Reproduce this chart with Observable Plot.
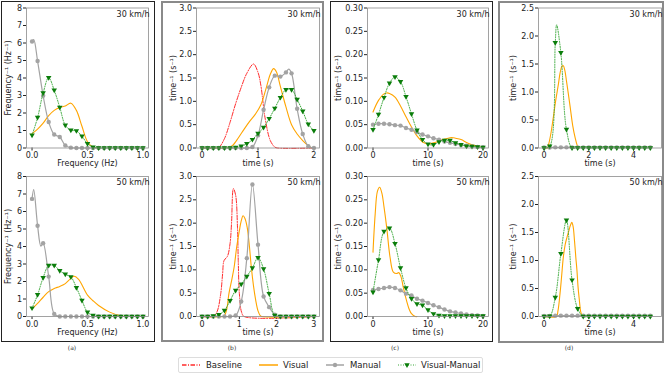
<!DOCTYPE html>
<html><head><meta charset="utf-8">
<script src="https://cdn.jsdelivr.net/npm/d3@7"></script>
<script src="https://cdn.jsdelivr.net/npm/@observablehq/plot@0.6"></script>
<style>
body{margin:0;background:#fff;font-family:"DejaVu Sans",sans-serif;}
#root{position:relative;width:665px;height:377px;overflow:hidden;background:#fff;}
.box{position:absolute;box-sizing:border-box;}
.plot{position:absolute;}
.plot svg{overflow:visible;}
.cap{position:absolute;font-size:6px;color:#333;transform:translateX(-50%);line-height:6px;}
</style></head><body><div id="root"></div>
<script>
// ---------- data ----------
const aX = [0,0.05,0.1,0.15,0.2,0.25,0.3,0.35,0.4,0.45,0.5,0.55,0.6,0.65,0.7,0.75,0.8,0.85,0.9,0.95,1];
const a30Manual = [6.09,4.97,2.99,1.49,0.77,0.63,0.15,0.02,0,0,0,0,0,0,0,0,0,0,0,0,0];
const a30ManualExtra = [[0.015,6.2]];
const a30VM = [0.73,1.74,3.14,4.02,3.3,2.32,1.3,1.01,0.98,0.67,0.25,0.05,0,0,0,0,0,0,0,0,0];
const a30Visual = [[0,0.82],[0.05,1.08],[0.1,1.42],[0.15,1.85],[0.2,2.15],[0.25,2.32],[0.3,2.4],[0.35,2.56],[0.4,2.15],[0.45,1.24],[0.5,0.36],[0.55,0.06],[0.6,0]];
const a50Manual = [6.72,5.19,4.19,2.28,0.15,0,0,0,0,0,0,0,0,0,0,0,0,0,0,0,0];
const a50ManualExtra = [[0.015,7.25],[0.08,4.02]];
const a50VM = [0.48,1.24,2.22,2.91,2.91,2.62,2.41,2.26,1.65,0.92,0.25,0.06,0,0,0,0,0,0,0,0,0];
const a50Visual = [[0,0.44],[0.05,0.75],[0.1,1.1],[0.15,1.42],[0.2,1.6],[0.25,1.72],[0.3,1.88],[0.35,2.18],[0.38,2.3],[0.42,2.12],[0.5,1.22],[0.55,0.9],[0.6,0.63],[0.7,0.25],[0.8,0.04],[0.85,0]];

const bX30 = [0,0.1,0.2,0.3,0.4,0.5,0.6,0.7,0.8,0.9,1.0,1.1,1.2,1.3,1.4,1.5,1.6,1.7,1.8,1.9,2.0];
const b30Manual = [0,0,0,0,0,0,0,0,0,0.02,0.27,0.82,1.3,1.55,1.53,1.62,1.6,0.84,0.3,0.04,0];
const b30ManualExtra = [[1.55,1.69]];
const b30VM = [0,0,0,0,0,0,0.01,0.04,0.09,0.18,0.31,0.44,0.63,0.85,1.08,1.25,1.25,1.04,0.79,0.51,0.37];
const b30Visual = [[0,0],[0.4,0],[0.5,0.02],[0.55,0.06],[0.65,0.22],[0.75,0.4],[0.85,0.57],[0.95,0.72],[1.05,0.92],[1.15,1.3],[1.22,1.58],[1.28,1.7],[1.33,1.63],[1.4,1.32],[1.5,0.88],[1.6,0.5],[1.7,0.3],[1.8,0.16],[1.9,0.05],[1.95,0.01],[2,0]];
const b30Base = [[0,0],[0.25,0],[0.3,0.01],[0.4,0.2],[0.5,0.55],[0.6,0.95],[0.7,1.3],[0.8,1.6],[0.92,1.8],[1.0,1.62],[1.05,1.35],[1.13,0.62],[1.22,0.16],[1.3,0.02],[1.35,0],[2,0]];

const bX50 = [0,0.15,0.3,0.45,0.6,0.75,0.9,1.05,1.2,1.35,1.5,1.65,1.8,1.95,2.1,2.25,2.4,2.55,2.7,2.85,3.0];
const b50Manual = [0,0,0,0,0,0,0.02,0.32,1.25,2.83,1.54,0.43,0.2,0.04,0,0,0,0,0,0,0];
const b50VM = [0,0,0.01,0.04,0.13,0.34,0.56,0.69,0.86,1.04,1.26,1.02,0.49,0.02,0,0,0,0,0,0,0];
const b50Visual = [[0,0],[0.55,0],[0.6,0.02],[0.66,0.15],[0.72,0.49],[0.8,0.8],[0.86,1.06],[0.93,1.5],[1.0,1.84],[1.05,2.05],[1.1,2.16],[1.15,2.1],[1.21,1.91],[1.27,1.5],[1.32,1.06],[1.38,0.65],[1.44,0.34],[1.5,0.12],[1.56,0.02],[1.6,0],[3,0]];
const b50Base = [[0,0],[0.3,0],[0.4,0.1],[0.5,0.49],[0.55,0.91],[0.59,1.2],[0.68,1.29],[0.75,1.56],[0.79,2.0],[0.84,2.74],[0.9,2.6],[0.95,1.9],[0.97,1.2],[1.0,0.49],[1.06,0.09],[1.13,0],[3,0]];

const cX = [0,1,2,3,4,5,6,7,8,9,10,11,12,13,14,15,16,17,18,19,20];
const c30Manual = [0.05,0.052,0.052,0.051,0.049,0.048,0.043,0.039,0.034,0.029,0.025,0.021,0.018,0.014,0.011,0.0085,0.0065,0.005,0.0035,0.002,0.0015];
const c30VM = [0.039,0.072,0.108,0.139,0.152,0.142,0.11,0.073,0.038,0.018,0.008,0.007,0.013,0.016,0.016,0.011,0.007,0.004,0.0035,0.002,0.001];
const c30Visual = [[0,0.077],[1,0.102],[2,0.116],[2.5,0.118],[3,0.117],[4,0.109],[5,0.09],[6,0.067],[7,0.045],[8,0.026],[9,0.013],[10,0.009],[11,0.011],[12,0.015],[13,0.019],[14,0.022],[14.6,0.022],[15,0.021],[16,0.018],[17,0.012],[18,0.007],[19,0.003],[20,0.001]];
const c50Manual = [0.057,0.059,0.061,0.063,0.061,0.056,0.049,0.045,0.038,0.034,0.029,0.024,0.02,0.015,0.011,0.0086,0.0064,0.0043,0.003,0.002,0.0014];
const c50VM = [0.052,0.121,0.182,0.189,0.156,0.104,0.061,0.038,0.027,0.024,0.014,0.0057,0.002,0.001,0.001,0.001,0.001,0.001,0.001,0.001,0.001];
const c50Visual = [[0,0.138],[0.4,0.22],[0.8,0.268],[1.2,0.277],[1.6,0.265],[2,0.235],[2.5,0.19],[3.1,0.127],[3.7,0.095],[4.3,0.092],[4.7,0.094],[5.1,0.085],[5.5,0.063],[6.1,0.034],[6.6,0.015],[7,0.006],[7.7,0],[8,0]];

const dX = [0,0.25,0.5,0.75,1,1.25,1.5,1.75,2,2.25,2.5,2.75,3,3.25,3.5,3.75,4,4.25,4.5,4.75];
const d30Manual = [0.01,0.01,0.012,0.012,0.012,0.012,0.012,0.012,0.012,0.012,0.012,0.012,0.012,0.012,0.012,0.012,0.012,0.012,0.012,0.012];
const d30VM = [0,0.03,1.88,1.7,0.33,0,0,0,0,0,0,0,0,0,0,0,0,0,0,0];
const d30VMExtra = [[0.56,2.2]];
const d30Visual = [[0,0],[0.15,0],[0.2,0.06],[0.3,0.25],[0.41,0.54],[0.52,0.85],[0.64,1.14],[0.72,1.35],[0.8,1.46],[0.86,1.47],[0.93,1.38],[1.0,1.2],[1.08,0.98],[1.17,0.72],[1.28,0.4],[1.39,0.18],[1.48,0.05],[1.55,0]];
const d50Manual = [0.012,0.012,0.015,0.015,0.015,0.015,0.015,0.015,0.015,0.015,0.015,0.015,0.015,0.015,0.015,0.015,0.015,0.015,0.015,0.015];
const d50VM = [0,0.005,0.34,1.12,1.72,0.65,0.14,0,0,0,0,0,0,0,0,0,0,0,0,0];
const d50Visual = [[0,0],[0.55,0],[0.62,0.1],[0.71,0.4],[0.78,0.7],[0.86,1.06],[0.94,1.28],[1.02,1.41],[1.1,1.52],[1.17,1.62],[1.24,1.68],[1.3,1.6],[1.36,1.35],[1.42,1.05],[1.47,0.82],[1.52,0.52],[1.58,0.28],[1.63,0.1],[1.67,0.04],[1.7,0]];

const titles = ["30 km/h","50 km/h"];
const captions = ["(a)","(b)","(c)","(d)"];
const legendLabels = ["Baseline","Visual","Manual","Visual-Manual"];

// ---------- style ----------
const C = {base:"#ff2b2b", visual:"#ffa500", manual:"#a3a3a3", vmLine:"#39a839", vmDot:"#0a7d0a"};
const cols = [
  {left:0,   w:155, mL:26, mR:7, xd:[-0.05,1.05], xt:[0,0.5,1], xf:d3.format(".1f"), yd:[0,8], yt:[0,1,2,3,4,5,6,7,8], yf:d3.format("d"), xl:"Frequency (Hz)", yl:"Frequency\u207B\u00B9 (Hz\u207B\u00B9)", ylx:18},
  {left:160, w:164, mL:36, mR:5, yd:[0,3], yt:[0,0.5,1,1.5,2,2.5,3], yf:d3.format(".1f"), xl:"time (s)", yl:"time\u207B\u00B9 (s\u207B\u00B9)", ylx:23.5},
  {left:330, w:162, mL:37, mR:4, xd:[-1,21], xt:[0,10,20], xf:d3.format("d"), yd:[0,0.3], yt:[0,0.05,0.1,0.15,0.2,0.25,0.3], yf:d3.format(".2f"), xl:"time (s)", yl:"time\u207B\u00B9 (s\u207B\u00B9)", ylx:29},
  {left:497, w:167, mL:41, mR:3, xd:[-0.25,5.25], xt:[0,2,4], xf:d3.format("d"), yd:[0,2.5], yt:[0,0.5,1,1.5,2,2.5], yf:d3.format(".1f"), xl:"time (s)", yl:"time\u207B\u00B9 (s\u207B\u00B9)", ylx:25}
];
const rows = [{top:0,h:170,mT:7.5,mB:22.5},{top:168,h:172,mT:8,mB:24}];

const panels = [
  {c:0,r:0, visual:a30Visual, mx:aX, manual:a30Manual, mExtra:a30ManualExtra, vx:aX, vm:a30VM},
  {c:0,r:1, visual:a50Visual, mx:aX, manual:a50Manual, mExtra:a50ManualExtra, vx:aX, vm:a50VM},
  {c:1,r:0, xd:[-0.1,2.1], xt:[0,1,2], base:b30Base, visual:b30Visual, mx:bX30, manual:b30Manual, mExtra:b30ManualExtra, vx:bX30, vm:b30VM},
  {c:1,r:1, xd:[-0.15,3.15], xt:[0,1,2,3], base:b50Base, visual:b50Visual, mx:bX50, manual:b50Manual, vx:bX50, vm:b50VM},
  {c:2,r:0, visual:c30Visual, mx:cX, manual:c30Manual, vx:cX, vm:c30VM},
  {c:2,r:1, visual:c50Visual, mx:cX, manual:c50Manual, vx:cX, vm:c50VM},
  {c:3,r:0, visual:d30Visual, mx:dX, manual:d30Manual, vx:dX, vm:d30VM, vExtra:d30VMExtra},
  {c:3,r:1, visual:d50Visual, mx:dX, manual:d50Manual, vx:dX, vm:d50VM}
];

const triDown = {draw(ctx, size){ const s = Math.sqrt(size)*0.62; ctx.moveTo(-s,-s*0.62); ctx.lineTo(s,-s*0.62); ctx.lineTo(0,s*1.1); ctx.closePath(); }};

function pts(xs, ys){ return xs.map((x,i)=>({x, y:ys[i]})); }
function withExtra(p, extra){ const all = p.concat((extra||[]).map(([x,y])=>({x,y}))); return all.sort((a,b)=>a.x-b.x); }
const P = arr => arr.map(([x,y])=>({x,y}));

const root = document.getElementById("root");

// outer boxes
[[1,1,154,341,"#222",1.3],[161,1,163,341,"#8a8a8a",2],[330,1,163,341,"#222",1.3],[498,1,166,342,"#8a8a8a",2]].forEach(([l,t,w,h,c,bw])=>{
  const d = document.createElement("div"); d.className="box";
  Object.assign(d.style,{left:l+"px",top:t+"px",width:w+"px",height:h+"px",border:bw+"px solid "+c});
  root.appendChild(d);
});

panels.forEach(p=>{
  const col = cols[p.c], row = rows[p.r];
  const xd = p.xd || col.xd, xt = p.xt || col.xt, xf = col.xf || d3.format("d");
  const mpts = pts(p.mx, p.manual), vpts = pts(p.vx, p.vm);
  const marks = [];
  if (p.base) marks.push(Plot.line(P(p.base), {x:"x", y:"y", stroke:C.base, strokeWidth:1, strokeDasharray:"4.5,1.5,1,1.5", curve:"catmull-rom"}));
  marks.push(Plot.line(P(p.visual), {x:"x", y:"y", stroke:C.visual, strokeWidth:1.1, curve:"catmull-rom"}));
  marks.push(Plot.line(withExtra(mpts, p.mExtra), {x:"x", y:"y", stroke:C.manual, strokeWidth:1.2, curve:"catmull-rom"}));
  marks.push(Plot.dot(mpts, {x:"x", y:"y", r:2.2, fill:C.manual, stroke:"none"}));
  marks.push(Plot.line(withExtra(vpts, p.vExtra), {x:"x", y:"y", stroke:C.vmLine, strokeWidth:1, strokeDasharray:"1,1.5", curve:"catmull-rom"}));
  marks.push(Plot.dot(vpts, {x:"x", y:"y", r:2.5, symbol:triDown, fill:C.vmDot, stroke:"none"}));
  marks.push(Plot.frame({stroke:"#8c8c8c", strokeWidth:0.8}));
  marks.push(Plot.text([titles[p.r]], {frameAnchor:"top-right", text:d=>d, textAnchor:"end", dy:3, dx:1, fontSize:8, fill:"#222"}));
  marks.push(Plot.text([col.xl], {frameAnchor:"bottom", text:d=>d, textAnchor:"middle", dy:18, fontSize:8, fill:"#222"}));
  marks.push(Plot.text([col.yl], {frameAnchor:"left", text:d=>d, textAnchor:"middle", rotate:-90, dx:-col.ylx, fontSize:8, fill:"#222"}));
  const svg = Plot.plot({
    width: col.w, height: row.h,
    marginLeft: col.mL, marginRight: col.mR, marginTop: row.mT, marginBottom: row.mB,
    x: {domain: xd, ticks: xt, tickFormat: xf, tickSize: 3, tickPadding: 1.5, label: null},
    y: {domain: col.yd, ticks: col.yt, tickFormat: col.yf, tickSize: 3, tickPadding: 1.5, label: null},
    style: {fontFamily:"DejaVu Sans", fontSize:"8px", color:"#222", background:"transparent", overflow:"visible"},
    marks
  });
  const wrap = document.createElement("div"); wrap.className="plot";
  wrap.style.left = col.left+"px"; wrap.style.top = row.top+"px";
  wrap.appendChild(svg); root.appendChild(wrap);
});

// captions
[72,232,395,569].forEach((x,i)=>{
  const d = document.createElement("div"); d.className="cap"; d.textContent = captions[i];
  d.style.left = x+"px"; d.style.top = "345px"; root.appendChild(d);
});

// legend
const lg = document.createElement("div");
Object.assign(lg.style,{position:"absolute",left:"178px",top:"357px",width:"305px",height:"16px",border:"1px solid #ddd",borderRadius:"2px",boxSizing:"border-box",background:"#fff"});
const ns = "http://www.w3.org/2000/svg";
const ls = document.createElementNS(ns,"svg"); ls.setAttribute("width","303"); ls.setAttribute("height","14");
ls.style.position="absolute"; ls.style.left="0"; ls.style.top="0";
const items = [
  {x1:3,x2:21,tx:27,stroke:C.base,dash:"4.5,1.5,1,1.5",sw:1.3},
  {x1:80,x2:99,tx:104,stroke:C.visual,dash:null,sw:1.5},
  {x1:147,x2:165,tx:171,stroke:C.manual,dash:null,sw:1.5,dot:"circle"},
  {x1:219,x2:237,tx:242,stroke:C.vmLine,dash:"1,1.5",sw:1,dot:"tri"}
];
items.forEach((it,i)=>{
  const ln = document.createElementNS(ns,"line");
  ln.setAttribute("x1",it.x1); ln.setAttribute("x2",it.x2); ln.setAttribute("y1",7); ln.setAttribute("y2",7);
  ln.setAttribute("stroke",it.stroke); ln.setAttribute("stroke-width",it.sw); if(it.dash) ln.setAttribute("stroke-dasharray",it.dash);
  ls.appendChild(ln);
  const cx = (it.x1+it.x2)/2;
  if (it.dot==="circle"){ const c=document.createElementNS(ns,"circle"); c.setAttribute("cx",cx); c.setAttribute("cy",7); c.setAttribute("r",2.2); c.setAttribute("fill",C.manual); ls.appendChild(c); }
  if (it.dot==="tri"){ const t=document.createElementNS(ns,"path"); t.setAttribute("d",`M${cx-2.7},${5.3}L${cx+2.7},${5.3}L${cx},${9.9}Z`); t.setAttribute("fill",C.vmDot); ls.appendChild(t); }
  const tx = document.createElementNS(ns,"text");
  tx.setAttribute("x",it.tx); tx.setAttribute("y",10); tx.setAttribute("font-size","8.5"); tx.setAttribute("font-family","DejaVu Sans"); tx.setAttribute("fill","#222");
  tx.textContent = legendLabels[i]; ls.appendChild(tx);
});
lg.appendChild(ls); root.appendChild(lg);
</script></body></html>
